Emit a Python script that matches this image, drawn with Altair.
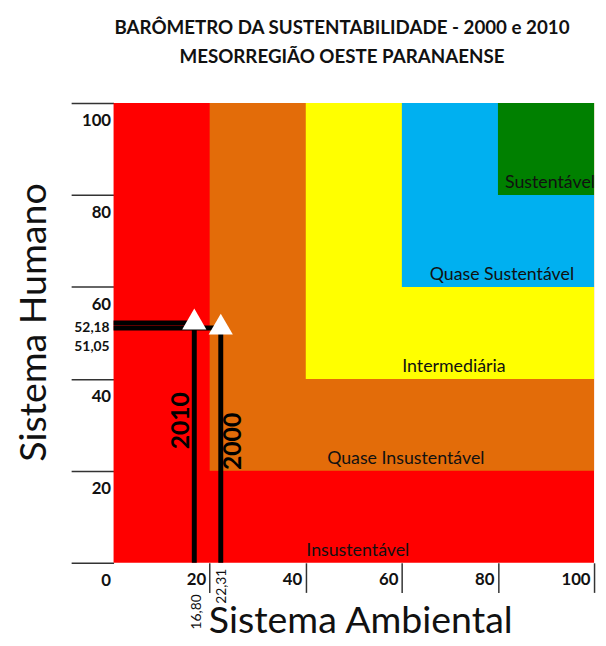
import altair as alt
import pandas as pd

# ---- data ----
zone_names = ["Insustentável", "Quase Insustentável", "Intermediária", "Quase Sustentável", "Sustentável"]
zone_lower = [0, 20, 40, 60, 80]
zone_upper = [100, 100, 100, 100, 100]
zone_colors = ["#FF0000", "#E36C09", "#FFFF00", "#00B0F0", "#008000"]

years = ["2010", "2000"]
ambiental = [16.80, 22.31]
humano = [52.18, 51.05]
ambiental_txt = ["16,80", "22,31"]
humano_txt = ["52,18", "51,05"]
year_label_pos = [30.9, 26.4]

y_ticks = [0, 20, 40, 60, 80, 100]
x_ticks = [20, 40, 60, 80, 100]

# ---- styling constants ----
FONT = "Lato"
INK = "#111111"
year_text_dy = [-13, 13]
amb_text_dx = [-32, -6]
amb_text_dy = [3, 1]
hum_text_dy = [5, 19]

xs = alt.Scale(domain=[0, 100], nice=False, zero=False)
ys = alt.Scale(domain=[0, 100], nice=False, zero=False)

zones = pd.DataFrame({
    "zona": zone_names,
    "lo": zone_lower,
    "hi": zone_upper,
})
zones["mid"] = (zones["lo"] + zones["hi"]) / 2

x_axis = alt.Axis(
    values=x_ticks, format="d", domain=False, grid=False,
    tickSize=30, tickWidth=1.5, tickColor="#333333",
    labelFont=FONT, labelFontSize=17, labelFontWeight="bold", labelColor=INK,
    labelAlign="right", labelBaseline="middle", labelOffset=-4, labelPadding=-13,
    labelFlush=False, labelOverlap=False,
    title="Sistema Ambiental", titleFont=FONT, titleFontSize=38, titleFontWeight="normal",
    titleColor=INK, titleX=250, titleY=60, titleAlign="center", titleBaseline="middle",
)
y_axis = alt.Axis(
    values=y_ticks, format="d", domain=False, grid=False,
    tickSize=43, tickWidth=1.5, tickColor="#333333",
    labelFont=FONT, labelFontSize=17, labelFontWeight="bold", labelColor=INK,
    labelPadding=-40, labelOffset=18, labelFlush=False, labelOverlap=False,
    title="Sistema Humano", titleFont=FONT, titleFontSize=38, titleFontWeight="normal",
    titleColor=INK, titleAngle=270, titleX=-80, titleY=222,
    titleAlign="center", titleBaseline="middle",
)


def X(field):
    return alt.X(field, scale=xs, axis=x_axis)


def Y(field):
    return alt.Y(field, scale=ys, axis=y_axis)


rects = alt.Chart(zones).mark_rect().encode(
    x=X("lo:Q"), x2="hi:Q",
    y=Y("lo:Q"), y2="hi:Q",
    color=alt.Color("zona:N", scale=alt.Scale(domain=zone_names, range=zone_colors), legend=None),
)

zone_text = alt.Chart(zones).mark_text(
    font=FONT, fontSize=18, color=INK, baseline="middle", align="center", dy=-12, dx=4
).encode(
    x=X("mid:Q"), y=Y("lo:Q"), text="zona:N",
)

pts = pd.DataFrame({"ano": years, "amb": ambiental, "hum": humano,
                    "amb_txt": ambiental_txt, "hum_txt": humano_txt,
                    "pos": year_label_pos})
pts["zero"] = 0

hlines = alt.Chart(pts).mark_rule(color="black", strokeWidth=5).encode(
    x=X("zero:Q"), x2="amb:Q", y=Y("hum:Q"),
)
vlines = alt.Chart(pts).mark_rule(color="black", strokeWidth=5).encode(
    x=X("amb:Q"), y=Y("zero:Q"), y2="hum:Q",
)
points = alt.Chart(pts).mark_point(
    shape="triangle-up", size=600, filled=True, fill="white", opacity=1, yOffset=-4
).encode(
    x=X("amb:Q"), y=Y("hum:Q"),
)

layers = [rects, zone_text, hlines, vlines, points]

for i in range(len(years)):
    row = pts.iloc[[i]]
    layers.append(
        alt.Chart(row).mark_text(
            font=FONT, fontSize=25, fontWeight="bold", color="black",
            angle=270, align="center", baseline="middle", dy=year_text_dy[i]
        ).encode(x=X("amb:Q"), y=Y("pos:Q"), text="ano:N")
    )
    layers.append(
        alt.Chart(row).mark_text(
            font=FONT, fontSize=14, color=INK, angle=270, align="right",
            baseline="middle", dx=amb_text_dx[i], dy=amb_text_dy[i]
        ).encode(x=X("amb:Q"), y=Y("zero:Q"), text="amb_txt:N")
    )
    layers.append(
        alt.Chart(row).mark_text(
            font=FONT, fontSize=14, fontWeight="bold", color=INK, align="right",
            baseline="middle", dx=-4, dy=hum_text_dy[i]
        ).encode(x=X("zero:Q"), y=Y("hum:Q"), text="hum_txt:N")
    )

chart = alt.layer(*layers).properties(
    width=487,
    height=466,
    autosize=alt.AutoSizeParams(type="none"),
    padding={"left": 107, "top": 92, "right": 4, "bottom": 78},
    title=alt.TitleParams(
        text=["BARÔMETRO DA SUSTENTABILIDADE - 2000 e 2010", "MESORREGIÃO OESTE PARANAENSE"],
        font=FONT, fontSize=19, fontWeight="bold", color=INK,
        lineHeight=29, anchor="middle", offset=36, dx=-12,
    ),
).configure_view(stroke=None)

chart.save("out.html", embed_options={"renderer": "svg", "actions": False})
